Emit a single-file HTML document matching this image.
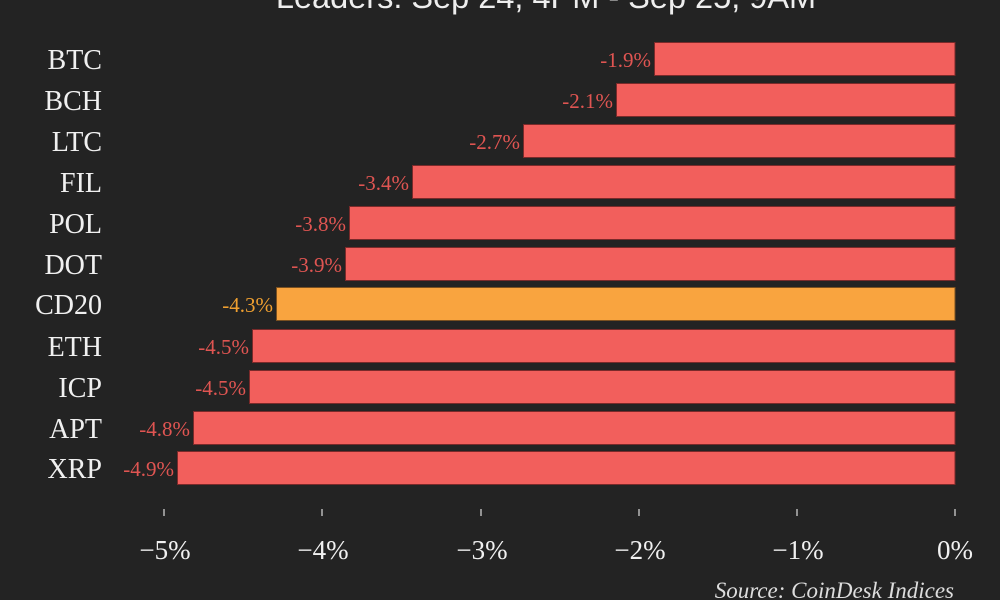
<!DOCTYPE html>
<html><head><meta charset="utf-8"><style>
html,body{margin:0;padding:0;background:#232323;}
svg{display:block;}
</style></head><body>
<svg width="1000" height="600" viewBox="0 0 1000 600" xmlns="http://www.w3.org/2000/svg">
<rect width="1000" height="600" fill="#232323"/>
<text x="546" y="8" fill="#eeeeee" font-family="Liberation Sans, sans-serif" font-size="32.5" text-anchor="middle">Leaders: Sep 24, 4PM - Sep 25, 9AM</text>
<g font-family="Liberation Serif, serif">
<g font-size="28" fill="#f0f0f0" text-anchor="end">
<text x="102" y="69">BTC</text>
<text x="102" y="110">BCH</text>
<text x="102" y="151">LTC</text>
<text x="102" y="192">FIL</text>
<text x="102" y="233">POL</text>
<text x="102" y="274">DOT</text>
<text x="102" y="314">CD20</text>
<text x="102" y="356">ETH</text>
<text x="102" y="397">ICP</text>
<text x="102" y="438">APT</text>
<text x="102" y="478">XRP</text>
</g>
<g stroke="#7a2a2a" stroke-width="1" fill="#f25f5c">
<rect x="654.5" y="42.5" width="300.5" height="33"/>
<rect x="616.5" y="83.5" width="338.5" height="33"/>
<rect x="523.5" y="124.5" width="431.5" height="33"/>
<rect x="412.5" y="165.5" width="542.5" height="33"/>
<rect x="349.5" y="206.5" width="605.5" height="33"/>
<rect x="345.5" y="247.5" width="609.5" height="33"/>
<rect x="276.5" y="287.5" width="678.5" height="33" fill="#f9a43f" stroke="#7a5020"/>
<rect x="252.5" y="329.5" width="702.5" height="33"/>
<rect x="249.5" y="370.5" width="705.5" height="33"/>
<rect x="193.5" y="411.5" width="761.5" height="33"/>
<rect x="177.5" y="451.5" width="777.5" height="33"/>
</g>
<g font-size="21" fill="#e05552" text-anchor="end">
<text x="651" y="67">-1.9%</text>
<text x="613" y="108">-2.1%</text>
<text x="520" y="149">-2.7%</text>
<text x="409" y="190">-3.4%</text>
<text x="346" y="231">-3.8%</text>
<text x="342" y="272">-3.9%</text>
<text x="273" y="312" fill="#f0a030">-4.3%</text>
<text x="249" y="354">-4.5%</text>
<text x="246" y="395">-4.5%</text>
<text x="190" y="436">-4.8%</text>
<text x="174" y="476">-4.9%</text>
</g>
<g stroke="#dddddd" stroke-width="1.2">
<line x1="164" y1="509" x2="164" y2="516"/>
<line x1="322" y1="509" x2="322" y2="516"/>
<line x1="481" y1="509" x2="481" y2="516"/>
<line x1="639" y1="509" x2="639" y2="516"/>
<line x1="797" y1="509" x2="797" y2="516"/>
<line x1="955" y1="509" x2="955" y2="516"/>
</g>
<g font-size="27" fill="#f0f0f0" text-anchor="middle">
<text x="165" y="559">−5%</text>
<text x="323" y="559">−4%</text>
<text x="482" y="559">−3%</text>
<text x="640" y="559">−2%</text>
<text x="798" y="559">−1%</text>
<text x="955" y="559">0%</text>
</g>
<text x="954" y="598" font-size="23" font-style="italic" fill="#dddddd" text-anchor="end">Source: CoinDesk Indices</text>
</g>
</svg>
</body></html>
